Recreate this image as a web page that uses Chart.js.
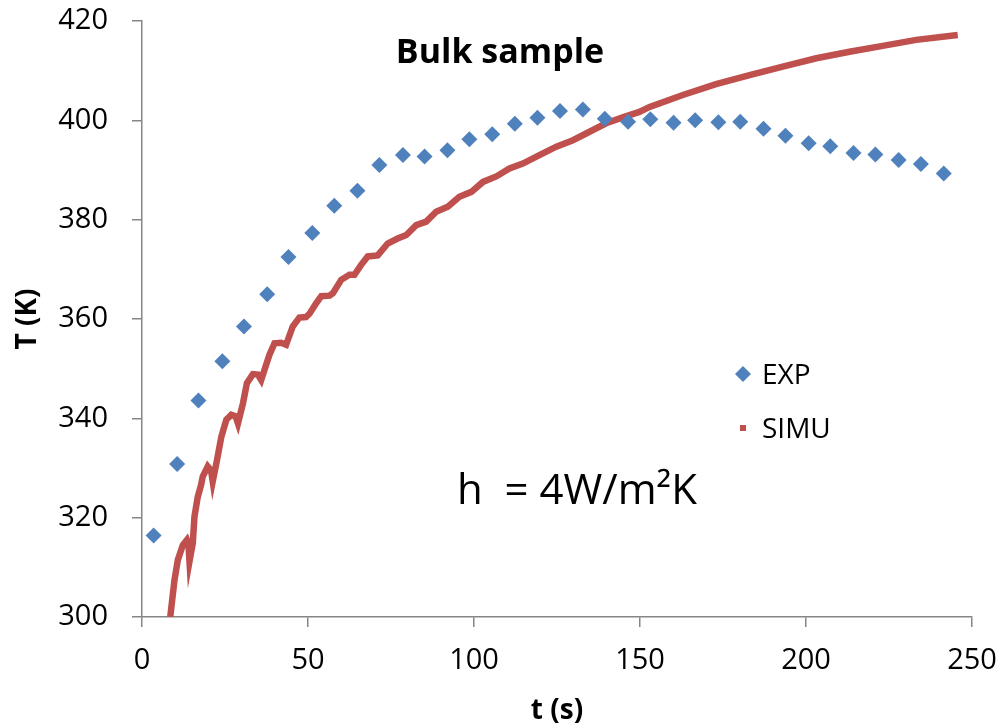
<!DOCTYPE html>
<html>
<head>
<meta charset="utf-8">
<script src="https://cdn.jsdelivr.net/npm/chart.js@4"></script>
<style>
  html, body { margin: 0; padding: 0; background: #fff; }
  #wrap { width: 996px; height: 728px; }
</style>
</head>
<body>
<div id="wrap"><canvas id="chart_bulk"></canvas></div>
<script>
// EXP measurements (blue diamonds)
var expTime = [3.5, 10.6, 17.0, 24.2, 30.7, 37.7, 44.1, 51.3, 57.9, 64.9, 71.5, 78.6, 85.1, 92.0, 98.6, 105.5, 112.3, 119.1,
  125.9, 132.8, 139.4, 146.4, 153.1, 160.1, 166.6, 173.6, 180.2, 187.2, 193.8, 200.8, 207.3, 214.3, 220.9, 227.9, 234.6, 241.5];
var expTemp = [316.4, 330.8, 343.6, 351.5, 358.5, 365.0, 372.5, 377.3, 382.8, 385.8, 391.0, 393.0, 392.7, 394.0, 396.2, 397.2, 399.3, 400.5,
  401.9, 402.2, 400.3, 399.7, 400.2, 399.5, 400.0, 399.6, 399.7, 398.3, 396.9, 395.4, 394.8, 393.4, 393.1, 392.0, 391.2, 389.3];

// SIMU curve (red)
var simuTime = [8.5, 9.8, 10.8, 12.3, 13.5, 14.0, 14.3, 15.3, 15.8, 16.8, 17.8, 18.3, 19.8, 20.8, 21.3, 22.5, 23.9, 25.4, 26.9, 28.2, 28.9,
  30.4, 31.6, 33.4, 34.9, 35.9, 37.2, 38.4, 39.9, 41.9, 43.4, 45.4, 47.4, 49.4, 50.5, 52.5, 54.0, 56.5, 57.5, 60.0, 62.5, 64.0, 66.0,
  68.0, 71.0, 74.0, 77.0, 79.6, 82.6, 85.6, 88.6, 92.1, 95.6, 99.2, 102.7, 106.7, 110.7, 114.7, 119.7, 124.8, 129.8, 134.8, 139.8,
  144.8, 149.8, 152.9, 162.9, 172.9, 183.0, 193.0, 203.1, 213.1, 223.1, 233.2, 245.7];
var simuTemp = [300.0, 307.5, 311.5, 314.5, 315.5, 314.5, 311.2, 314.9, 320.2, 324.2, 326.6, 328.3, 330.3, 329.5, 327.3, 331.3, 336.3, 339.7, 340.7, 340.4, 339.0,
  343.0, 347.1, 348.9, 348.8, 347.7, 350.4, 352.8, 355.1, 355.2, 354.8, 358.5, 360.3, 360.4, 361.1, 363.2, 364.6, 364.7, 365.2, 367.9, 368.9, 368.9, 370.9,
  372.6, 372.8, 375.2, 376.2, 376.9, 378.9, 379.6, 381.6, 382.6, 384.6, 385.6, 387.6, 388.7, 390.3, 391.3, 393.0, 394.7, 396.0, 397.7, 399.4,
  400.6, 401.7, 402.7, 405.1, 407.3, 409.1, 410.8, 412.5, 413.8, 415.0, 416.2, 417.2];

var xTicks = [0, 50, 100, 150, 200, 250];
var yTicks = [300, 320, 340, 360, 380, 400, 420];

var BLUE = '#4F81BD';
var RED = '#C0504D';
var AXIS = '#868686';
var FONT = "'Open Sans', 'DejaVu Sans', sans-serif";

function pairs(xs, ys) {
  return xs.map(function (x, i) { return { x: x, y: ys[i] }; });
}

var chart_bulk = new Chart(document.getElementById('chart_bulk'), {
  type: 'scatter',
  data: {
    datasets: [
      {
        label: 'EXP',
        data: pairs(expTime, expTemp),
        showLine: false,
        pointStyle: 'rectRot',
        pointRadius: 8,
        pointBackgroundColor: BLUE,
        pointBorderColor: BLUE,
        pointBorderWidth: 0
      },
      {
        label: 'SIMU',
        data: pairs(simuTime, simuTemp),
        showLine: true,
        borderColor: RED,
        borderWidth: 6.5,
        pointRadius: 0,
        tension: 0
      }
    ]
  },
  options: {
    animation: false,
    responsive: true,
    maintainAspectRatio: false,
    layout: { padding: 0 },
    plugins: {
      legend: { display: false },
      title: { display: false },
      tooltip: { enabled: false }
    },
    scales: {
      x: {
        type: 'linear',
        min: 0,
        max: 250,
        afterBuildTicks: function (axis) { axis.ticks = xTicks.map(function (v) { return { value: v }; }); },
        afterFit: function (axis) {
          axis.height = 111;
          axis.paddingLeft = 0;
          axis.paddingRight = 24;
        },
        grid: { drawOnChartArea: false, drawTicks: true, tickLength: 10, color: AXIS, lineWidth: 1.5 },
        border: { display: true, color: AXIS, width: 1.5 },
        ticks: { color: '#000', padding: 16, font: { family: FONT, size: 29 } },
        title: { display: true, text: 't (s)', color: '#000', padding: { top: 0, bottom: 0 }, font: { family: FONT, size: 28, weight: 'bold' } }
      },
      y: {
        type: 'linear',
        min: 300,
        max: 420,
        afterBuildTicks: function (axis) { axis.ticks = yTicks.map(function (v) { return { value: v }; }); },
        afterFit: function (axis) {
          axis.width = 142;
          axis.paddingTop = 21;
          axis.paddingBottom = 0;
        },
        grid: { drawOnChartArea: false, drawTicks: true, tickLength: 10, color: AXIS, lineWidth: 1.5 },
        border: { display: true, color: AXIS, width: 1.5 },
        ticks: { color: '#000', padding: 24, font: { family: FONT, size: 29 } },
        title: { display: true, text: 'T (K)', color: '#000', padding: { top: 11, bottom: 0 }, font: { family: FONT, size: 28, weight: 'bold' } }
      }
    }
  },
  plugins: [{
    id: 'labelsInside',
    afterDraw: function (chart) {
      var ctx = chart.ctx;
      ctx.save();
      ctx.fillStyle = '#000';
      ctx.textBaseline = 'middle';
      // title inside plot
      ctx.textAlign = 'center';
      ctx.font = 'bold 34px ' + FONT;
      ctx.fillText('Bulk sample', 500, 53);
      // annotation
      ctx.textAlign = 'left';
      ctx.font = '42px ' + FONT;
      ctx.fillText('h  = 4W/m\u00B2K', 457, 492);
      // legend
      ctx.font = '28px ' + FONT;
      ctx.fillText('EXP', 762, 376);
      ctx.fillText('SIMU', 762, 430);
      ctx.fillStyle = BLUE;
      ctx.beginPath();
      ctx.moveTo(743, 366); ctx.lineTo(751, 374); ctx.lineTo(743, 382); ctx.lineTo(735, 374);
      ctx.closePath();
      ctx.fill();
      ctx.fillStyle = RED;
      ctx.fillRect(740, 425, 6, 6);
      ctx.restore();
    }
  }, {
    id: 'whiteBg',
    beforeDraw: function (chart) {
      var ctx = chart.canvas.getContext('2d');
      ctx.save();
      ctx.globalCompositeOperation = 'destination-over';
      ctx.fillStyle = 'white';
      ctx.fillRect(0, 0, chart.canvas.width, chart.canvas.height);
      ctx.restore();
    }
  }]
});
</script>
</body>
</html>
